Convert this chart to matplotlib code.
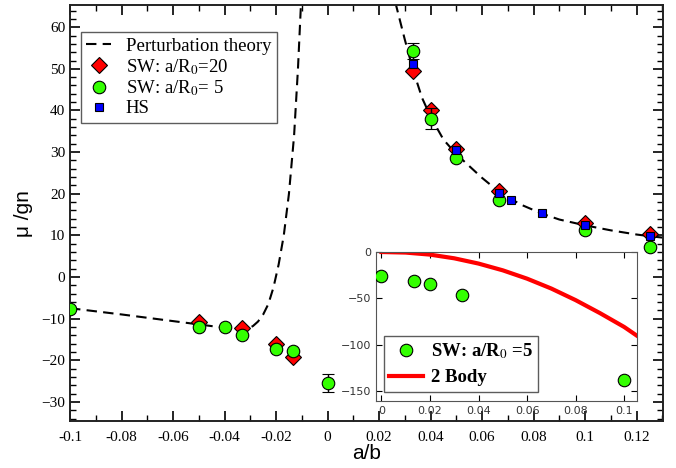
import numpy as np
import matplotlib
matplotlib.use("Agg")
import matplotlib.pyplot as plt
from matplotlib.ticker import MultipleLocator
from matplotlib.lines import Line2D

plt.rcParams['mathtext.fontset'] = 'stix'

# perturbation theory, two branches
pt_left_x = [-0.1, -0.08, -0.06, -0.05, -0.04, -0.0333, -0.031, -0.029, -0.027, -0.025,
             -0.023, -0.021, -0.019, -0.017, -0.015, -0.013, -0.0115, -0.0103]
pt_left_y = [-7.5, -9.0, -10.6, -11.4, -12.2, -12.6, -12.4, -11.8, -10.7, -9.0,
             -6.5, -2.5, 3.0, 10.0, 20.0, 34.0, 50.0, 66.0]
pt_right_x = [0.0263, 0.03, 0.0333, 0.0367, 0.04, 0.045, 0.05, 0.06, 0.0667, 0.075,
              0.0833, 0.09, 0.1, 0.11, 0.12, 0.125, 0.131]
pt_right_y = [66.0, 57.0, 49.5, 43.0, 38.5, 33.0, 29.5, 23.8, 20.4, 17.4,
              15.2, 13.8, 12.4, 11.2, 10.2, 9.8, 9.4]

# SW a/R0 = 20 (red diamonds)
sw20_x = [-0.05, -0.0333, -0.02, -0.0133, 0.0333, 0.04, 0.05, 0.0667, 0.1, 0.125]
sw20_y = [-10.8, -12.3, -16.0, -19.3, 49.6, 40.0, 30.8, 20.6, 13.0, 10.3]

# SW a/R0 = 5 (green circles)
sw5_x = [-0.1, -0.05, -0.04, -0.0333, -0.02, -0.0133, 0.0, 0.0333, 0.04, 0.05, 0.0667, 0.1, 0.125]
sw5_y = [-7.6, -12.0, -12.0, -14.0, -17.3, -17.8, -25.5, 54.3, 38.0, 28.6, 18.5, 11.2, 7.2]
sw5_err = [0, 0, 0, 0, 0, 0, 2.1, 2.0, 2.5, 0, 0, 0, 0]

# hard spheres (blue squares)
hs_x = [0.0333, 0.05, 0.0667, 0.0714, 0.0833, 0.1, 0.125]
hs_y = [51.2, 30.5, 20.2, 18.4, 15.3, 12.5, 9.8]

# inset: SW a/R0 = 5 and two-body curve
in_sw_x = [0.0, 0.0133, 0.02, 0.0333, 0.1]
in_sw_y = [-25.4, -31.5, -35.1, -46.0, -138.4]
body_x = [0, 0.01, 0.02, 0.03, 0.04, 0.05, 0.06, 0.07, 0.08, 0.09, 0.1, 0.105]
body_y = [0, -0.6, -2.8, -6.8, -12.5, -19.8, -28.8, -39.5, -52.0, -66.0, -81.0, -90.0]

green = '#33ff00'
fig = plt.figure(figsize=(6.76, 4.68), dpi=100)
ax = fig.add_axes([0.1036, 0.1004, 0.8774, 0.8886])

pt, = ax.plot(pt_left_x, pt_left_y, color='black', ls=(0, (5, 3)), lw=1.5)
ax.plot(pt_right_x, pt_right_y, color='black', ls=(0, (5, 3)), lw=1.5)

r20, = ax.plot(sw20_x, sw20_y, ls='none', marker='D', ms=8.5, mfc='#ff0000', mec='black', mew=0.8, zorder=3)
ax.errorbar(sw5_x, sw5_y, yerr=sw5_err, fmt='o', ms=9, mfc=green, mec='black', mew=0.8,
            ecolor='black', elinewidth=1, capsize=4, capthick=1, zorder=4)
hs, = ax.plot(hs_x, hs_y, ls='none', marker='s', ms=6, mfc='#0000ff', mec='black', mew=0.8, zorder=5)
g5 = Line2D([], [], ls='none', marker='o', ms=9, mfc=green, mec='black', mew=0.8)

ax.set_xlim(-0.1, 0.1303)
ax.set_ylim(-34.6, 65.3)
ax.xaxis.set_minor_locator(MultipleLocator(0.01))
ax.yaxis.set_major_locator(MultipleLocator(10))
ax.yaxis.set_minor_locator(MultipleLocator(2))
ax.tick_params(which='both', direction='in', top=True, right=True)
ax.tick_params(which='major', length=7, width=1.2)
ax.tick_params(which='minor', length=4, width=1.0)
ax.tick_params(axis='x', pad=7)
xt = np.arange(-0.1, 0.121, 0.02)
ax.set_xticks(xt)
ax.set_xticklabels(['%g' % round(v, 2) for v in xt], fontfamily='Liberation Serif', fontsize=11)
for lab in ax.get_yticklabels():
    lab.set_fontfamily('Liberation Serif')
    lab.set_fontsize(11)
for s in ax.spines.values():
    s.set_linewidth(1.4)
    s.set_color('#222222')

ax.set_xlabel('a/b', fontfamily='Liberation Sans', fontsize=15, labelpad=0)
ax.set_ylabel('μ /gn', fontfamily='Liberation Sans', fontsize=15, labelpad=6)

leg = ax.legend([pt, r20, g5, hs], ['Perturbation theory', r'SW: a/R$_0$=20', r'SW: a/R$_0$= 5', 'HS'],
                loc='upper left', bbox_to_anchor=(0.018, 0.935),
                prop={'family': 'Liberation Serif', 'size': 13.5},
                frameon=True, fancybox=False, edgecolor='#333333', handlelength=1.3,
                labelspacing=0.1, borderpad=0.3, handletextpad=0.8, borderaxespad=0)
leg.get_frame().set_linewidth(1.0)

# inset
ins = fig.add_axes([0.556, 0.1432, 0.386, 0.3183])
bl, = ins.plot(body_x, body_y, color='#ff0000', lw=3, zorder=2)
gi, = ins.plot(in_sw_x, in_sw_y, ls='none', marker='o', ms=9, mfc=green, mec='black', mew=0.8, zorder=3)
ins.set_xlim(-0.0023, 0.1052)
ins.set_ylim(-161, 0)
ins.set_xticks([0, 0.02, 0.04, 0.06, 0.08, 0.1])
ins.set_xticklabels(['0', '0.02', '0.04', '0.06', '0.08', '0.1'])
ins.set_yticks([0, -50, -100, -150])
ins.tick_params(direction='in', length=4, labelsize=8, labelcolor='#333333', top=True, right=True)
for s in ins.spines.values():
    s.set_linewidth(0.8)
    s.set_color('#555555')
ileg = ins.legend([gi, bl], [r'SW: a/R$_0$ =5', '2 Body'], loc='lower left', bbox_to_anchor=(0.03, 0.06),
                  prop={'family': 'Liberation Serif', 'size': 13.5, 'weight': 'bold'},
                  frameon=True, fancybox=False, edgecolor='#333333', handlelength=1.8,
                  labelspacing=0.45, borderpad=0.3, handletextpad=0.4, borderaxespad=0)
ileg.get_frame().set_linewidth(1.0)

fig.savefig('out.png', dpi=100)
